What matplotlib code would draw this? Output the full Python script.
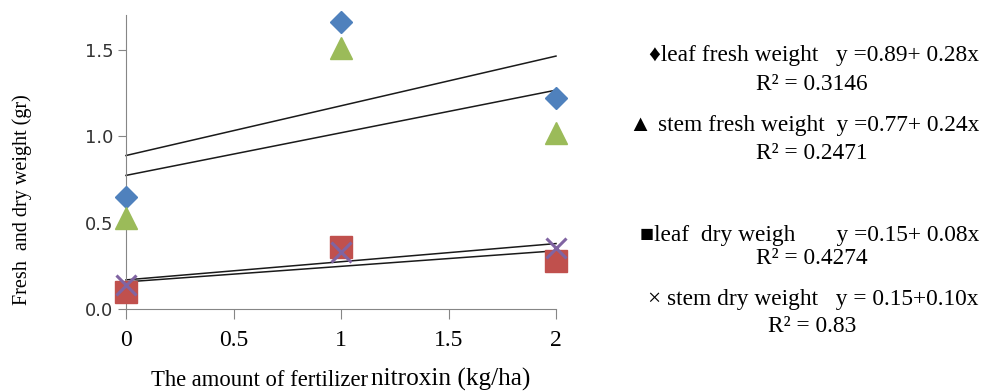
import numpy as np
import matplotlib
matplotlib.use("Agg")
from matplotlib import pyplot as plt

# 데이터
dose = [0, 1, 2]
leaf_fresh = [0.645, 1.66, 1.22]
stem_fresh = [0.527, 1.51, 1.02]
leaf_dry = [0.10, 0.36, 0.28]
stem_dry = [0.14, 0.33, 0.35]

x_ticks = [0, 0.5, 1, 1.5, 2]
x_tick_labels = ["0", "0.5", "1", "1.5", "2"]
y_ticks = [0.0, 0.5, 1.0, 1.5]
y_tick_labels = ["0.0", "0.5", "1.0", "1.5"]

eq_names = [
    "\u2666leaf fresh weight   y =0.89+ 0.28x",
    "\u25b2 stem fresh weight  y =0.77+ 0.24x",
    "\u25a0leaf  dry weigh       y =0.15+ 0.08x",
    "\u00d7 stem dry weight   y = 0.15+0.10x",
]
r2_texts = ["R\u00b2 = 0.3146", "R\u00b2 = 0.2471", "R\u00b2 = 0.4274", "R\u00b2 = 0.83"]

serif = ["Liberation Serif", "DejaVu Serif"]
W, H = 982, 392

fig = plt.figure(figsize=(W / 100, H / 100), dpi=100)
ax = fig.add_axes([126 / W, 1 - 309 / H, (556 - 126) / W, (309 - 15) / H])

series = [
    (leaf_fresh, "D", "#4F81BD", 11.2),
    (stem_fresh, "^", "#9BBB59", 16.5),
    (leaf_dry, "s", "#C0504D", 15.5),
    (stem_dry, "x", "#8064A2", 14),
]

# 추세선 (선형 회귀)
for ys, m, c, ms in series:
    k, b = np.polyfit(dose, ys, 1)
    xx = np.array([dose[0], dose[-1]])
    ax.plot(xx, b + k * xx, color="#1a1a1a", lw=1.1, zorder=2)

for ys, m, c, ms in series:
    if m == "x":
        ax.plot(dose, ys, ls="none", marker=m, ms=ms, mew=2.2, color=c, zorder=4)
    else:
        ax.plot(dose, ys, ls="none", marker=m, ms=ms, color=c, mec=c, zorder=3)

ax.set_xlim(0, 2)
ax.set_ylim(0, 1.7)
ax.set_xticks(x_ticks)
ax.set_xticklabels(x_tick_labels, family=serif, fontsize=17)
ax.set_yticks(y_ticks)
ax.set_yticklabels(y_tick_labels, family="DejaVu Sans", fontsize=13, color="#333333")
ax.tick_params(axis="x", length=7, color="#868686", pad=8)
ax.tick_params(axis="y", length=6, color="#868686", pad=3)
for s in ["top", "right"]:
    ax.spines[s].set_visible(False)
for s in ["left", "bottom"]:
    ax.spines[s].set_color("#868686")
for ln in ax.lines:
    ln.set_clip_on(False)

# y축 제목
fig.text(22 / W, 1 - 200 / H, "Fresh  and dry weight (gr)", family=serif,
         fontsize=14.5, rotation=90, ha="center", va="center")

# x축 제목 (글자 크기가 두 가지)
fig.text(368 / W, 1 - 386 / H, "The amount of fertilizer", family=serif,
         fontsize=16.3, ha="right", va="baseline")
fig.text(371 / W, 1 - 386 / H, "nitroxin (kg/ha)", family=serif,
         fontsize=18.2, ha="left", va="baseline")

# 회귀식 텍스트
name_y = [56, 125, 235, 300]
r2_y = [85, 153, 258, 326]
for t, yy in zip(eq_names, name_y):
    fig.text(979 / W, 1 - yy / H, t, family=serif, fontsize=16.8,
             ha="right", va="center")
for t, yy in zip(r2_texts, r2_y):
    fig.text(812 / W, 1 - yy / H, t, family=serif, fontsize=16.8,
             ha="center", va="center")

fig.savefig("out.png", dpi=100)
